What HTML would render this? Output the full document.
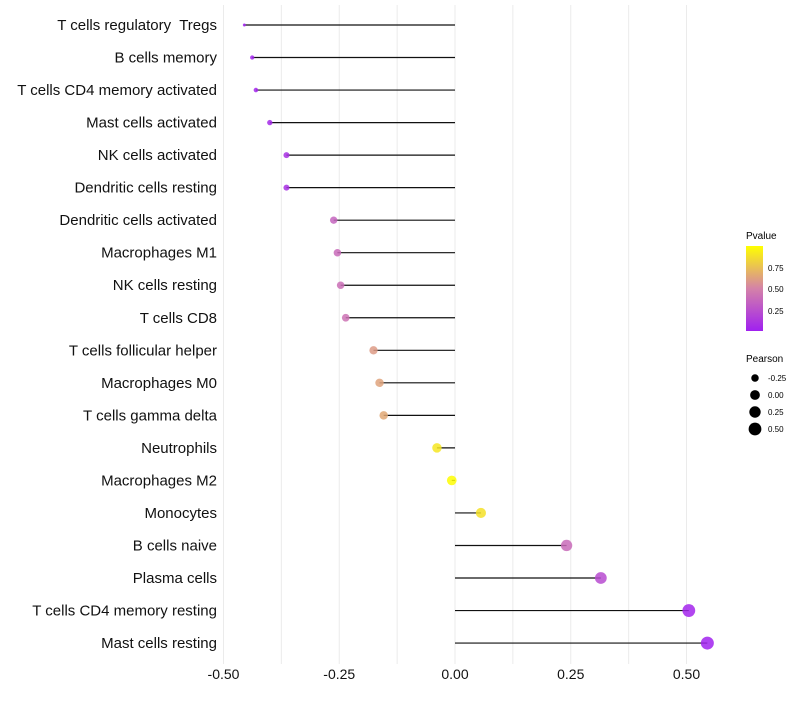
<!DOCTYPE html>
<html><head><meta charset="utf-8"><style>
body{margin:0;background:#fff;font-family:"Liberation Sans",sans-serif}
svg text{font-family:"Liberation Sans",sans-serif;white-space:pre}
</style></head><body>
<svg id="chart" width="800" height="700">
<defs><linearGradient id="pg" x1="0" y1="1" x2="0" y2="0">
<stop offset="0" stop-color="#A020F0"/><stop offset="0.5" stop-color="#D482A8"/><stop offset="1" stop-color="#FFFF00"/></linearGradient></defs>
<g id="grid"></g>
<g id="marks"></g>
<g id="ylabels"></g>
<g id="xlabels"></g>
<g>
<text x="746" y="239" font-size="10">Pvalue</text>
<rect x="746" y="246" width="17" height="85" fill="url(#pg)"/>
<text x="768" y="271" font-size="8">0.75</text>
<text x="768" y="292" font-size="8">0.50</text>
<text x="768" y="314" font-size="8">0.25</text>
</g>
<g id="sizeleg">
<text x="746" y="362" font-size="10">Pearson</text>
</g>
</svg>
<script>
const categories=["T cells regulatory  Tregs","B cells memory","T cells CD4 memory activated","Mast cells activated","NK cells activated","Dendritic cells resting","Dendritic cells activated","Macrophages M1","NK cells resting","T cells CD8","T cells follicular helper","Macrophages M0","T cells gamma delta","Neutrophils","Macrophages M2","Monocytes","B cells naive","Plasma cells","T cells CD4 memory resting","Mast cells resting"];
const pearson=[-0.455,-0.438,-0.43,-0.40,-0.364,-0.364,-0.262,-0.254,-0.247,-0.236,-0.176,-0.163,-0.154,-0.039,-0.007,0.056,0.241,0.315,0.505,0.545];
const pvalue=[0.01,0.02,0.03,0.05,0.08,0.08,0.35,0.38,0.40,0.42,0.60,0.63,0.65,0.90,0.99,0.88,0.38,0.22,0.03,0.01];
const xTicks=[-0.5,-0.25,0,0.25,0.5];
const xTickLabels=["-0.50","-0.25","0.00","0.25","0.50"];
const sizeLegend=[-0.25,0,0.25,0.5];
const sizeLegendLabels=["-0.25","0.00","0.25","0.50"];
const NS="http://www.w3.org/2000/svg";
const x=v=>455+v*463;
const y=i=>25+i*32.53;
const r=v=>1.5+5*Math.sqrt(Math.max(0,v+0.455));
function lerp(a,b,t){return a.map((c,k)=>Math.round(c+(b[k]-c)*t));}
function col(p){const A=[160,32,240],M=[212,130,168],B=[255,255,0];const c=p<0.5?lerp(A,M,p/0.5):lerp(M,B,(p-0.5)/0.5);return `rgb(${c})`;}
function mk(tag,attrs,parent){const e=document.createElementNS(NS,tag);for(const k in attrs)e.setAttribute(k,attrs[k]);parent.appendChild(e);return e;}
const grid=document.getElementById('grid'),marks=document.getElementById('marks'),yl=document.getElementById('ylabels'),xl=document.getElementById('xlabels');
for(let v=-0.5;v<=0.5001;v+=0.125){const g=mk('line',{x1:x(v),x2:x(v),y1:5,y2:664,stroke:'#ebebeb','stroke-width':1},grid);

}
xTicks.forEach((v,i)=>{const t=mk('text',{x:x(v),y:679,'font-size':14,'text-anchor':'middle',fill:'#111'},xl);t.textContent=xTickLabels[i];

});
categories.forEach((c,i)=>{
const t=mk('text',{x:217,y:y(i)+5,'font-size':15,'text-anchor':'end',fill:'#111'},yl);t.textContent=c;


const l=mk('line',{x1:x(0),x2:x(pearson[i]),y1:y(i),y2:y(i),stroke:'#111','stroke-width':1.2},marks);


const p=mk('circle',{cx:x(pearson[i]),cy:y(i),r:r(pearson[i]),fill:col(pvalue[i]),'fill-opacity':0.85},marks);


});
const sl=document.getElementById('sizeleg');
sizeLegend.forEach((v,i)=>{const cy=378+i*17;
const c=mk('circle',{cx:755,cy:cy,r:r(v),fill:'#000'},sl);


const t=mk('text',{x:768,y:cy+3,'font-size':8},sl);t.textContent=sizeLegendLabels[i];

});
</script>
</body></html>
